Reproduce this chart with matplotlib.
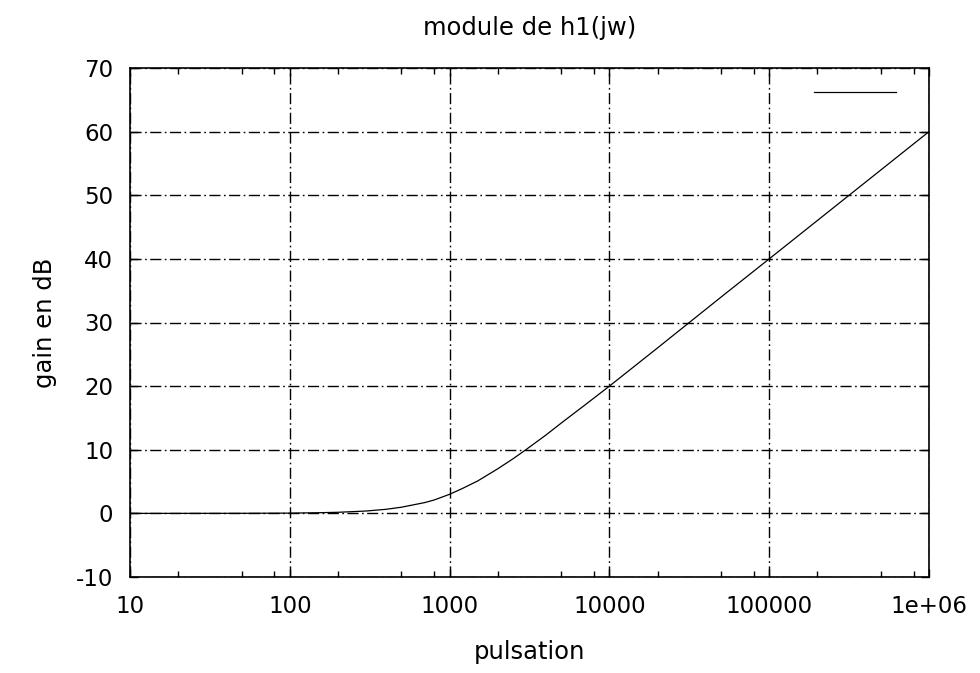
import matplotlib
matplotlib.use("Agg")
import matplotlib.pyplot as plt
from matplotlib.ticker import FixedLocator, NullFormatter

# data
pulsation = [10, 20, 50, 100, 150, 200, 300, 400, 500, 700, 800, 1000, 1200, 1500, 2000,
             2500, 3000, 4000, 5000, 7000, 10000, 20000, 50000, 100000, 1000000]
gain_db = [0.0, 0.0, 0.01, 0.04, 0.1, 0.17, 0.37, 0.64, 0.97, 1.7, 2.1, 3.0, 3.9, 5.1, 7.0,
           8.6, 10.0, 12.3, 14.2, 17.0, 20.0, 26.0, 34.0, 40.0, 60.0]

x_ticks = [10, 100, 1000, 10000, 100000, 1000000]
x_tick_labels = ["10", "100", "1000", "10000", "100000", "1e+06"]
y_ticks = [-10, 0, 10, 20, 30, 40, 50, 60, 70]

plt.rcParams['font.family'] = ['DejaVu Sans']
plt.rcParams['axes.unicode_minus'] = False

FS = 16.5

fig = plt.figure(figsize=(9.8, 6.73), dpi=100)
ax = fig.add_axes([130/980, 1-577/673, (929-130)/980, (577-68)/673])

line, = ax.plot(pulsation, gain_db, color='black', linewidth=0.9)
ax.set_xscale('log')
ax.set_xlim(10, 1e6)
ax.set_ylim(-10, 70)

ax.xaxis.set_major_locator(FixedLocator(x_ticks))
ax.set_xticklabels(x_tick_labels)
minor = [m * d for d in [10, 100, 1000, 10000, 100000] for m in (2, 5, 8)]
ax.xaxis.set_minor_locator(FixedLocator(minor))
ax.xaxis.set_minor_formatter(NullFormatter())
ax.set_yticks(y_ticks)

ax.tick_params(which='both', direction='in', top=True, right=True,
               labelsize=FS, width=1, color='black')
ax.tick_params(which='major', length=6)
ax.tick_params(which='minor', length=4)
ax.tick_params(axis='y', pad=12)
ax.tick_params(axis='x', pad=13)

ax.grid(True, which='major', color='black', linewidth=1.0,
        linestyle=(0, (8, 2.5, 1.2, 2.5)))
for s in ax.spines.values():
    s.set_linewidth(1.2)

ax.set_title("module de h1(jw)", fontsize=17.5, pad=24)
ax.set_xlabel("pulsation", fontsize=17.5, labelpad=16)
ax.set_ylabel("gain en dB", fontsize=17.5, labelpad=14)

leg = ax.legend([line], [" "], loc='upper right', frameon=False,
                handlelength=3.6, handletextpad=0.52, fontsize=FS, borderaxespad=0.2)

fig.savefig("out.png", dpi=100)
